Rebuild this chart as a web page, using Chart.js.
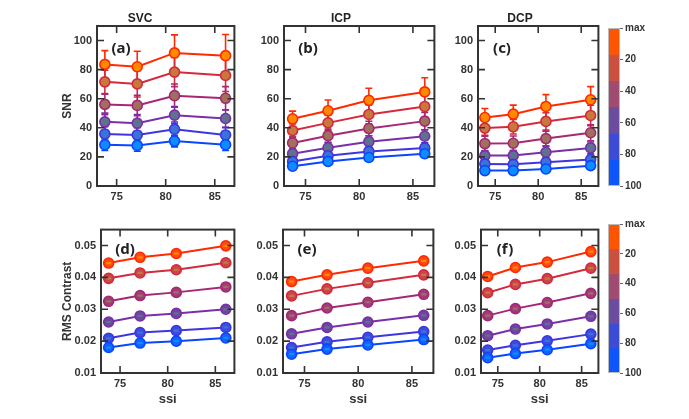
<!DOCTYPE html>
<html>
<head>
<meta charset="utf-8">
<script src="https://cdn.jsdelivr.net/npm/chart.js@4.4.0/dist/chart.umd.min.js"></script>
<style>
body { margin: 0; background: #fff; }
#wrap { position: relative; width: 689px; height: 419px; overflow: hidden; }
.box { position: absolute; }
</style>
</head>
<body>
<div id="wrap"></div>
<script>
// ---- data ----
var ssi = [73.8, 77.1, 80.9, 86.1];
var ssiTicks = [75, 80, 85];
var snrTicks = [0, 20, 40, 60, 80, 100];
var rmsTicks = [0.01, 0.02, 0.03, 0.04, 0.05];
var levelNames = ['max', '20', '40', '60', '80', '100'];

// SNR, one row per level (max ... 100)
var snrSVC = [[83.6, 82.0, 91.5, 89.6], [71.6, 70.2, 78.3, 76.0], [56.1, 55.4, 62.1, 60.3],
              [44.1, 43.2, 48.7, 46.4], [35.8, 35.1, 39.0, 35.1], [28.4, 27.9, 30.9, 28.4]];
var snrICP = [[46.2, 51.7, 58.9, 64.7], [38.1, 43.4, 49.2, 54.7], [29.6, 34.6, 39.5, 44.6],
              [22.2, 26.3, 30.5, 34.2], [16.9, 20.8, 23.8, 26.1], [13.6, 16.9, 19.6, 22.2]];
var snrDCP = [[47.1, 49.4, 54.7, 59.3], [39.8, 40.7, 44.4, 48.5], [29.2, 29.4, 32.6, 36.6],
              [20.9, 20.9, 23.2, 26.2], [15.2, 14.9, 16.3, 18.2], [10.6, 10.6, 11.7, 14.0]];
// SNR error bars
var errSVC = [[9.5, 10.6, 12.4, 14.6], [8, 9, 10, 11], [7, 7, 8, 8], [6, 6, 6, 6], [5, 5, 5, 5], [4, 4, 4, 4]];
var errICP = [[5.3, 7.4, 8.3, 9.7], [4.5, 5.5, 6.5, 7.5], [4, 4.5, 5, 6], [3, 3.5, 4, 4.5], [2.5, 3, 3, 3.5], [2, 2, 2.5, 2.5]];
var errDCP = [[6.2, 6.2, 8.1, 9.0], [5, 5, 6, 7], [5, 5, 5, 5.5], [3.5, 3.5, 4, 4], [2.5, 2.5, 3, 3], [2, 2, 2, 2]];

// RMS contrast
var rmsSVC = [[0.0445, 0.0463, 0.0475, 0.0499], [0.0397, 0.0414, 0.0424, 0.0446], [0.0325, 0.0343, 0.0353, 0.0370],
              [0.0260, 0.0279, 0.0287, 0.0300], [0.0209, 0.0227, 0.0233, 0.0243], [0.0180, 0.0194, 0.0200, 0.0210]];
var rmsICP = [[0.0387, 0.0408, 0.0429, 0.0452], [0.0342, 0.0364, 0.0383, 0.0408], [0.0280, 0.0304, 0.0322, 0.0347],
              [0.0223, 0.0243, 0.0260, 0.0281], [0.0180, 0.0198, 0.0212, 0.0230], [0.0159, 0.0175, 0.0188, 0.0205]];
var rmsDCP = [[0.0403, 0.0431, 0.0448, 0.0481], [0.0352, 0.0378, 0.0396, 0.0429], [0.0280, 0.0302, 0.0321, 0.0350],
              [0.0217, 0.0238, 0.0254, 0.0278], [0.0172, 0.0187, 0.0201, 0.0222], [0.0148, 0.0161, 0.0173, 0.0192]];
var rmsErr = [0.0001, 0.0001, 0.0001, 0.0001];

// colorbar
var cbarStops = [0, 16.7, 33.3, 50, 66.7, 83.3, 100];
var cbarTicks = [0, 20, 40, 60, 80, 100];

// ---- colours ----
var lineColors = ['#FF2A00', '#D42A3C', '#A52775', '#7A2FA8', '#3F35E0', '#0A46FF'];
var snrFills = ['#FF8A00', '#C8783A', '#A0705A', '#5E7290', '#3A72D8', '#0E8CFF'];
var rmsFills = ['#FF4A14', '#C8474A', '#9E3D78', '#6E45A0', '#3A4DDC', '#1262FF'];
var cbarColors = ['#FF5500', '#CC5040', '#A04B70', '#6B4C9E', '#3D4CD6', '#0D55FF'];

var txt = '#333';
var fam = '"Liberation Sans", Arial, sans-serif';

function addCanvas(left, top, w, h) {
    var d = document.createElement('div');
    d.className = 'box';
    d.style.left = left + 'px';
    d.style.top = top + 'px';
    var c = document.createElement('canvas');
    c.width = w;
    c.height = h;
    c.style.width = w + 'px';
    c.style.height = h + 'px';
    d.appendChild(c);
    document.getElementById('wrap').appendChild(d);
    return c;
}

function drawErrors(chart, p, after) {
    var ctx = chart.ctx, ys = chart.scales.y;
    chart.data.datasets.forEach(function (ds, i) {
        var meta = chart.getDatasetMeta(i);
        ctx.save();
        ctx.strokeStyle = after ? snrFills[i] : lineColors[i];
        ctx.lineWidth = 1.6;
        meta.data.forEach(function (pt, j) {
            var v = p.values[i][j];
            var e = p.errs ? p.errs[i][j] : rmsErr[j];
            var y1 = ys.getPixelForValue(v - e), y2 = ys.getPixelForValue(v + e);
            var hw = after ? 2.5 : 3.5;
            ctx.beginPath();
            ctx.moveTo(pt.x, y1); ctx.lineTo(pt.x, y2);
            ctx.moveTo(pt.x - hw, y1); ctx.lineTo(pt.x + hw, y1);
            ctx.moveTo(pt.x - hw, y2); ctx.lineTo(pt.x + hw, y2);
            ctx.stroke();
        });
        ctx.restore();
    });
}

function makeDeco(p) {
    return {
        id: 'panelDeco',
        beforeDatasetsDraw: function (chart) {
            if (p.errs) drawErrors(chart, p, false);
        },
        afterDatasetsDraw: function (chart) {
            if (!p.errs) drawErrors(chart, p, true);
        },
        afterDraw: function (chart) {
            var ctx = chart.ctx, a = chart.chartArea;
            var xs = chart.scales.x, ys = chart.scales.y;
            ctx.save();
            ctx.strokeStyle = '#333';
            ctx.lineWidth = 1.6;
            ctx.beginPath();
            ssiTicks.forEach(function (v) {
                var px = xs.getPixelForValue(v);
                ctx.moveTo(px, a.bottom); ctx.lineTo(px, a.bottom - 7);
                ctx.moveTo(px, a.top); ctx.lineTo(px, a.top + 7);
            });
            p.yTicks.forEach(function (v) {
                var py = ys.getPixelForValue(v);
                ctx.moveTo(a.left, py); ctx.lineTo(a.left + 7, py);
                ctx.moveTo(a.right, py); ctx.lineTo(a.right - 7, py);
            });
            ctx.stroke();
            ctx.lineWidth = 2;
            ctx.strokeRect(a.left, a.top, a.right - a.left, a.bottom - a.top);
            ctx.fillStyle = '#222';
            ctx.font = 'bold 15px "Noto Sans", sans-serif';
            ctx.textAlign = 'center';
            ctx.textBaseline = 'middle';
            ctx.fillText(p.label, a.left + 24, a.top + p.labelDy);
            ctx.restore();
        }
    };
}

function panel(p) {
    var cw = p.wy + p.w + 3;
    var ch = p.padTop + p.h + p.hx;
    var c = addCanvas(p.left - p.wy, p.top - p.padTop, cw, ch);
    var datasets = p.values.map(function (vals, i) {
        return {
            label: levelNames[i],
            data: vals.map(function (v, j) { return { x: ssi[j], y: v }; }),
            borderColor: lineColors[i],
            backgroundColor: p.fills[i],
            pointBorderColor: lineColors[i],
            pointBackgroundColor: p.fills[i],
            pointRadius: 5,
            pointBorderWidth: 1.6,
            borderWidth: 2,
            order: 5 - i
        };
    });
    new Chart(c.getContext('2d'), {
        type: 'line',
        data: { datasets: datasets },
        options: {
            responsive: false,
            animation: false,
            layout: { padding: { top: p.title ? 0 : p.padTop, right: 3, left: 0, bottom: 0 } },
            plugins: {
                legend: { display: false },
                tooltip: { enabled: false },
                title: {
                    display: !!p.title,
                    text: p.title || '',
                    color: '#222',
                    font: { family: fam, size: 12, weight: 'bold', lineHeight: '14px' },
                    padding: 0
                }
            },
            scales: {
                x: {
                    type: 'linear',
                    min: 73, max: 87,
                    afterBuildTicks: function (s) { s.ticks = ssiTicks.map(function (v) { return { value: v }; }); },
                    afterFit: function (s) { s.height = p.hx; },
                    grid: { display: false, drawTicks: false },
                    border: { display: false },
                    ticks: { padding: 4, color: txt, maxRotation: 0, autoSkip: false,
                             font: { family: fam, size: 11, weight: 'bold' } },
                    title: {
                        display: p.hx > 30,
                        text: 'ssi',
                        color: txt,
                        font: { family: fam, size: 13, weight: 'bold', lineHeight: '15px' },
                        padding: { top: 0, bottom: 6.5 }
                    }
                },
                y: {
                    min: p.yMin, max: p.yMax,
                    afterBuildTicks: function (s) { s.ticks = p.yTicks.map(function (v) { return { value: v }; }); },
                    afterFit: function (s) { s.width = p.wy; },
                    grid: { display: false, drawTicks: false },
                    border: { display: false },
                    ticks: {
                        padding: 5, color: txt, font: { family: fam, size: 11, weight: 'bold' },
                        callback: function (v) { return p.yMax < 1 ? v.toFixed(2) : String(v); }
                    },
                    title: {
                        display: !!p.yTitle,
                        text: p.yTitle || '',
                        color: txt,
                        font: { family: fam, size: 12, weight: 'bold', lineHeight: '14px' },
                        padding: { top: p.yTitlePad || 0, bottom: 0 }
                    }
                }
            }
        },
        plugins: [makeDeco(p)]
    });
}

function colorbar(top, height, padTop, padBottom) {
    var c = addCanvas(606, top, 60, height);
    var datasets = cbarColors.map(function (col, i) {
        return {
            label: levelNames[i],
            data: [[cbarStops[i], cbarStops[i + 1]]],
            backgroundColor: col,
            borderWidth: 0,
            grouped: false,
            barPercentage: 1,
            categoryPercentage: 1
        };
    });
    new Chart(c.getContext('2d'), {
        type: 'bar',
        data: { labels: [''], datasets: datasets },
        options: {
            responsive: false,
            animation: false,
            layout: { padding: { left: 2, top: padTop, bottom: padBottom, right: 0 } },
            plugins: { legend: { display: false }, tooltip: { enabled: false } },
            scales: {
                x: { display: false },
                y: {
                    position: 'right',
                    min: 0, max: 100, reverse: true,
                    afterBuildTicks: function (s) { s.ticks = cbarTicks.map(function (v) { return { value: v }; }); },
                    afterFit: function (s) { s.width = 46; },
                    grid: { display: true, drawOnChartArea: false, drawTicks: true, tickLength: 3, color: '#666' },
                    border: { display: false },
                    ticks: {
                        padding: 2, color: txt, font: { family: fam, size: 10, weight: 'bold' },
                        callback: function (v, idx) { return levelNames[idx]; }
                    }
                }
            }
        },
        plugins: [{
            id: 'cbarBorder',
            afterDraw: function (chart) {
                var a = chart.chartArea, ctx = chart.ctx;
                ctx.save();
                ctx.strokeStyle = '#bbb';
                ctx.lineWidth = 1;
                ctx.strokeRect(a.left + 0.5, a.top + 0.5, a.right - a.left - 1, a.bottom - a.top - 1);
                ctx.restore();
            }
        }]
    });
}

// top row: SNR
panel({ left: 97, top: 26, w: 141, h: 160, wy: 55, padTop: 14, hx: 20, title: 'SVC',
        yTitle: 'SNR', yTitlePad: 19, values: snrSVC, errs: errSVC, fills: snrFills,
        yMin: 0, yMax: 110, yTicks: snrTicks, label: '(a)', labelDy: 23 });
panel({ left: 284, top: 26, w: 154, h: 160, wy: 40, padTop: 14, hx: 20, title: 'ICP',
        values: snrICP, errs: errICP, fills: snrFills,
        yMin: 0, yMax: 110, yTicks: snrTicks, label: '(b)', labelDy: 23 });
panel({ left: 478, top: 26, w: 124, h: 160, wy: 40, padTop: 14, hx: 20, title: 'DCP',
        values: snrDCP, errs: errDCP, fills: snrFills,
        yMin: 0, yMax: 110, yTicks: snrTicks, label: '(c)', labelDy: 23 });

// bottom row: RMS contrast
panel({ left: 101, top: 223, w: 137, h: 150, wy: 58, padTop: 5, hx: 40,
        yTitle: 'RMS Contrast', yTitlePad: 18, values: rmsSVC, fills: rmsFills,
        yMin: 0.01, yMax: 0.055, yTicks: rmsTicks, label: '(d)', labelDy: 20 });
panel({ left: 283, top: 223, w: 154, h: 150, wy: 40, padTop: 5, hx: 40,
        values: rmsICP, fills: rmsFills,
        yMin: 0.01, yMax: 0.055, yTicks: rmsTicks, label: '(e)', labelDy: 20 });
panel({ left: 481, top: 223, w: 121, h: 150, wy: 40, padTop: 5, hx: 40,
        values: rmsDCP, fills: rmsFills,
        yMin: 0.01, yMax: 0.055, yTicks: rmsTicks, label: '(f)', labelDy: 20 });

colorbar(20, 175, 7, 9);
colorbar(216, 166, 7, 9);
</script>
</body>
</html>
